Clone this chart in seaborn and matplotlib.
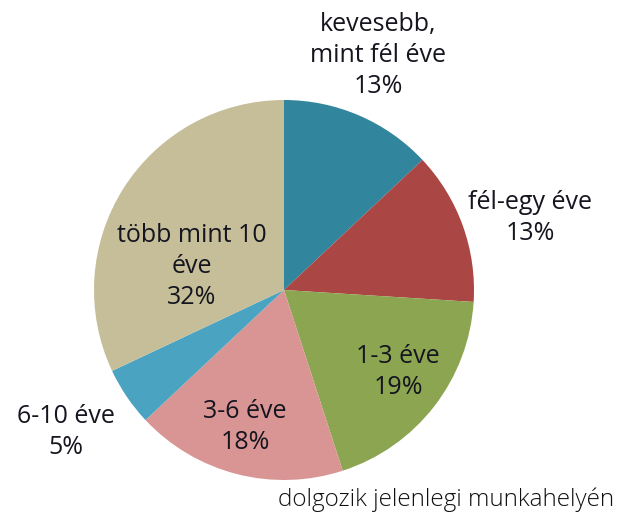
import matplotlib

matplotlib.use("Agg", force=True)
import matplotlib.pyplot as plt
import numpy as np
import seaborn as sns

labels = ["kevesebb,\nmint fél éve", "fél-egy éve", "1-3 éve", "3-6 éve", "6-10 éve", "több mint 10\néve"]
shares = [13, 13, 19, 18, 5, 32]
colors = ["#31859C", "#AA4644", "#8CA550", "#D99594", "#4AA3C0", "#C5BE98"]
caption = "dolgozik jelenlegi munkahelyén"

# label placement: radius (x pie radius) and angle nudge in degrees (clockwise)
label_radius = [1.33, 1.35, 0.74, 0.75, 1.37, 0.50]
label_nudge = [-1.5, 3.5, -2.0, 1.5, 1.2, -18.0]

sns.set_style("white")
plt.rcParams["font.family"] = ["Open Sans", "DejaVu Sans"]

W, H = 624, 518
cx, cy, r = 284, 290, 190

fig = plt.figure(figsize=(W / 100, H / 100), dpi=100)
ax = fig.add_axes([0, 0, 1, 1])

ax.pie(shares, colors=colors, startangle=90, counterclock=False, radius=1,
       wedgeprops={"linewidth": 0})
ax.set_xlim(-cx / r, (W - cx) / r)
ax.set_ylim(-(H - cy) / r, cy / r)
ax.set_aspect("equal")
ax.axis("off")

total = sum(shares)
start = 0.0
for lab, v, rad, nudge in zip(labels, shares, label_radius, label_nudge):
    mid = np.deg2rad((start + v / 2) / total * 360 + nudge)
    start += v
    x, y = rad * np.sin(mid), rad * np.cos(mid)
    ax.text(x, y, f"{lab}\n{v}%", ha="center", va="center", fontsize=18,
            color="#15151f", linespacing=1.32)

ax.text((446 - cx) / r, (cy - 500) / r, caption, ha="center", va="center",
        fontsize=17.5, color="#111111", fontweight="light")

fig.savefig("out.png", dpi=100)
plt.close(fig)
